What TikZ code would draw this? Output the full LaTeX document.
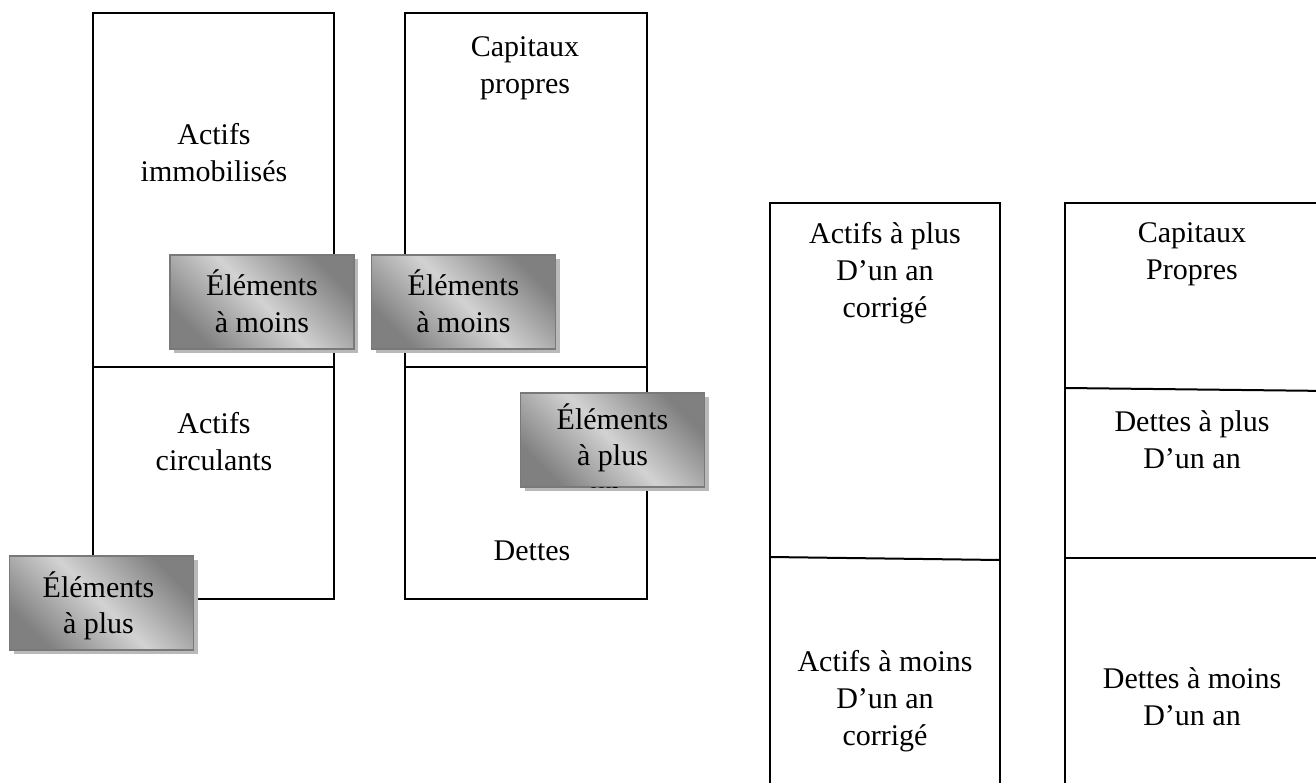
\documentclass[tikz,border=0pt]{standalone}
\usepackage{fontspec}
\setmainfont{Liberation Serif}
\usetikzlibrary{shadows}
\tikzset{
  cell/.style={draw=black, line width=2pt, inner sep=0pt},
  rule/.style={draw=black, line width=2pt},
  txt/.style={align=center, inner sep=0pt, font=\fontsize{30}{37}\selectfont},
  graybox/.style={draw=gray!95!black, line width=1.6pt, inner sep=0pt,
    minimum width=184pt, minimum height=94pt,
    top color=gray!100, bottom color=gray!100, middle color=gray!35,
    shading angle=-45,
    drop shadow={shadow xshift=4pt, shadow yshift=-4pt, fill=gray!55, opacity=1}},
  gline/.style={inner sep=0pt, anchor=base, font=\fontsize{30}{36}\selectfont}
}
\begin{document}
\begin{tikzpicture}[x=1pt, y=-1pt]
\clip (0,0) rectangle (1316,783);
\fill[white] (0,0) rectangle (1316,783);

% ---- balance sheet (left pair of columns)
\node[cell, minimum width=241pt, minimum height=354pt] (immo) at (213.5,190) {};
\node[cell, minimum width=241pt, minimum height=232pt] (circ) at (213.5,483) {};
\node[cell, minimum width=242pt, minimum height=354pt] (capl) at (526,190) {};
\node[cell, minimum width=242pt, minimum height=232pt] (dett) at (526,483) {};

\node[txt] (timmo) at (214,153) {Actifs\\immobilisés};
\node[txt] (tcapl) at (525,68) {Capitaux\\propres};
\node[txt] (tcirc) at (214,442) {Actifs\\circulants};
\node[txt] (tdett) at (532,551) {Dettes};

% ---- adjustment tags
\node[graybox] (g1) at (262,302) {};
\node[gline] (g1a) at (262,296) {Éléments};
\node[gline] (g1b) at (262,332) {à moins};

\node[graybox] (g2) at (463.5,302) {};
\node[gline] (g2a) at (463.5,296) {Éléments};
\node[gline] (g2b) at (463.5,332) {à moins};

\node[graybox] (g3) at (612.5,440) {};
\node[gline] (g3a) at (612.5,429) {Éléments};
\node[gline] (g3b) at (612.5,465) {à plus};
\begin{scope}
  \clip (g3.north west) rectangle (g3.south east);
  \node[gline] (g3c) at (606,501) {un};
\end{scope}

\node[graybox] (g4) at (101.5,603) {};
\node[gline] (g4a) at (98.5,597) {Éléments};
\node[gline] (g4b) at (98.5,633) {à plus};

% ---- financial balance sheet (right pair of columns)
\coordinate (e1) at (770,203);
\coordinate (e2) at (1000,203);
\coordinate (e3) at (770,800);
\coordinate (e4) at (1000,800);
\draw[rule] (e3) -- (e1) -- (e2) -- (e4);
\coordinate (ed1) at (770,557);
\coordinate (ed2) at (1000,560);
\draw[rule] (ed1) -- (ed2);

\coordinate (f1) at (1065,203);
\coordinate (f2) at (1330,203);
\coordinate (f3) at (1065,800);
\draw[rule] (f3) -- (f1) -- (f2);
\coordinate (fa1) at (1065,388);
\coordinate (fa2) at (1330,391);
\draw[rule] (fa1) -- (fa2);
\coordinate (fb1) at (1065,558);
\coordinate (fb2) at (1330,558);
\draw[rule] (fb1) -- (fb2);

\node[txt] (tap) at (885,273) {Actifs à plus\\D’un an\\corrigé};
\node[txt] (tcp) at (1192,254) {Capitaux\\Propres};
\node[txt] (tdp) at (1192,440) {Dettes à plus\\D’un an};
\node[txt] (tam) at (885,701) {Actifs à moins\\D’un an\\corrigé};
\node[txt] (tdm) at (1192,697) {Dettes à moins\\D’un an};
\end{tikzpicture}
\end{document}
